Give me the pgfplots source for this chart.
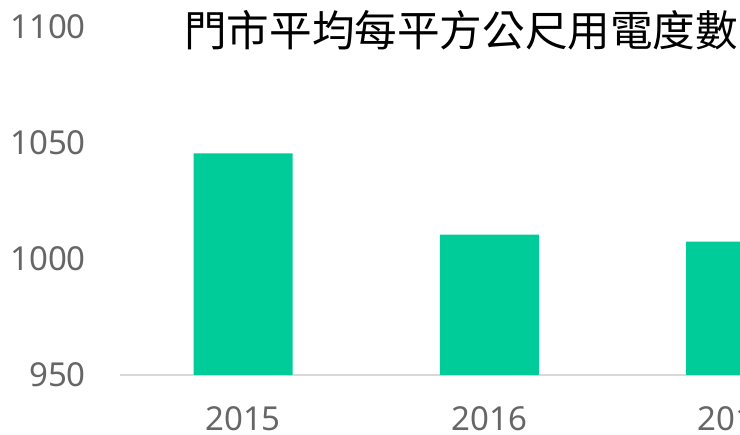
\documentclass[border=0pt]{standalone}
\usepackage{pgfplots}
\pgfplotsset{compat=1.18}
\usepackage{fontspec}
\setmainfont{Noto Sans}
\newfontfamily\cjk{Noto Sans CJK TC}
\definecolor{barc}{HTML}{00CC99}
\definecolor{tickc}{HTML}{666666}
\definecolor{axisl}{HTML}{D9D9D9}
\begin{document}
\begin{tikzpicture}
\useasboundingbox (0,0) rectangle (740bp,435bp);
\begin{axis}[
  at={(120bp,60bp)}, anchor=south west,
  scale only axis, width=620bp, height=348bp,
  xmin=-0.5, xmax=2.0183, ymin=950, ymax=1100,
  ytick={950,1000,1050,1100},
  xtick={0,1,2}, xticklabels={2015,2016,2017},
  axis x line*=bottom, axis y line*=left,
  y axis line style={draw=none},
  x axis line style={draw=axisl, line width=2bp, -},
  major tick length=0pt,
  /pgf/number format/assume math mode=true,
  /pgf/number format/1000 sep={},
  ticklabel style={font=\fontsize{33bp}{40bp}\selectfont, text=tickc, inner sep=0pt},
  yticklabel style={xshift=-34bp},
  xticklabel style={yshift=-31bp},
  ybar, bar width=99bp,
]
\addplot[fill=barc, draw=none] coordinates {(0,1045.5) (1,1010.5) (2,1007.5)};
\end{axis}
\node[anchor=west, inner sep=0pt] at (184bp,405bp) {\cjk\fontsize{42.6bp}{50bp}\selectfont 門市平均每平方公尺用電度數};
\end{tikzpicture}
\end{document}
